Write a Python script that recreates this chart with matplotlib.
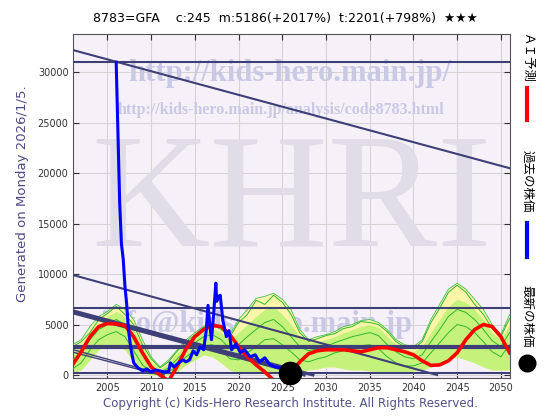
import numpy as np
import matplotlib
matplotlib.use('Agg')
import matplotlib.pyplot as plt
from matplotlib.lines import Line2D

# --- data ---
title = '8783=GFA    c:245  m:5186(+2017%)  t:2201(+798%)  \u2605\u2605\u2605'
x_ticks = [2005, 2010, 2015, 2020, 2025, 2030, 2035, 2040, 2045, 2050]
y_ticks = [0, 5000, 10000, 15000, 20000, 25000, 30000]

band_years = list(range(2001, 2052))
yellow_hi = [3000, 3500, 4800, 5800, 6300, 7000, 6500, 5500, 3500, 1800, 800,
             1500, 2500, 3500, 4200, 4800, 5200, 4800, 4000, 5500, 6500, 7600,
             7800, 8100, 7500, 6500, 4500, 3500, 3800, 4000, 4300, 4800, 5000,
             5400, 5500, 5200, 4500, 3500, 3000, 2800, 3500, 5500, 7000, 8500,
             9100, 8500, 7500, 6500, 5000, 4000, 6000]
band_lo = [200, 500, 1500, 2500, 3000, 3000, 2500, 1200, 300, 0, 0,
           0, 300, 1000, 1500, 2000, 1800, 1200, 500, 200, 200, 300,
           300, 300, 200, 200, 300, 500, 600, 800, 800, 600, 500,
           500, 400, 300, 200, 200, 300, 400, 500, 800, 1200, 1500,
           1800, 1500, 1200, 800, 500, 500, 500]
green_hi = [2200, 3000, 4000, 5000, 5800, 6300, 5800, 4500, 2800, 1300, 600,
            1200, 2200, 3000, 3800, 4300, 4600, 4200, 3500, 4200, 5000, 5800,
            6500, 6800, 6000, 5000, 3800, 3200, 3300, 3500, 3800, 4200, 4500,
            4800, 5000, 4700, 3800, 3000, 2500, 2300, 2800, 4200, 5500, 6800,
            7500, 7200, 6500, 5500, 4200, 3500, 5000]
green_a = [2800, 3300, 4200, 5500, 6100, 6800, 6000, 5000, 3000, 1600, 700,
           1300, 2400, 3300, 4000, 4700, 5000, 4500, 3800, 5200, 6000, 7400,
           7000, 7900, 7200, 6000, 4200, 3300, 3600, 3900, 4100, 4600, 4800,
           5300, 5200, 5000, 4300, 3300, 2800, 2600, 3300, 5200, 6600, 8200,
           8900, 8200, 7000, 6000, 4600, 3800, 5600]
green_b = [1500, 2300, 3500, 4500, 5000, 5500, 5000, 3500, 2000, 800, 300,
           700, 1600, 2500, 3200, 3800, 4000, 3500, 2600, 3000, 3800, 4500,
           5200, 5500, 4800, 3800, 2800, 2400, 2600, 2800, 3200, 3500, 3800,
           4000, 4200, 3900, 3000, 2300, 1800, 1600, 2000, 3300, 4500, 5800,
           6500, 6200, 5500, 4500, 3400, 2800, 4200]
green_c = [600, 1200, 2500, 3500, 4000, 4300, 3800, 2400, 1000, 300, 100,
           300, 900, 1800, 2400, 2900, 3000, 2500, 1600, 1500, 2200, 2800,
           3500, 3600, 3000, 2300, 1500, 1300, 1600, 1800, 2200, 2400, 2600,
           2900, 3000, 2600, 1800, 1200, 900, 900, 1200, 2200, 3200, 4200,
           5000, 4800, 4200, 3300, 2300, 1800, 3000]

ai_years = band_years
ai_pred = [1000, 2300, 3800, 4800, 5100, 5050, 4900, 3800, 2200, 800, 0,
           -600, 900, 2600, 3800, 4500, 4900, 4800, 4000, 2800, 1800, 1000,
           300, -500, -500, 300, 1300, 2100, 2400, 2500, 2500, 2500, 2400,
           2300, 2500, 2700, 2700, 2500, 2300, 2000, 1400, 950, 1000, 1400,
           2200, 3500, 4500, 5000, 4800, 3800, 2200]

past_years = [2006.0, 2006.2, 2006.4, 2006.6, 2006.8, 2007.0, 2007.2, 2007.4,
              2007.7, 2008.0, 2008.5, 2009.0, 2009.5, 2010.0, 2010.5, 2011.0,
              2011.5, 2012.0, 2012.2, 2012.6, 2013.0, 2013.6, 2014.0, 2014.4,
              2014.8, 2015.2, 2015.6, 2016.0, 2016.3, 2016.5, 2016.7, 2016.9,
              2017.1, 2017.4, 2017.5, 2017.7, 2017.9, 2018.2, 2018.6, 2018.9,
              2019.2, 2019.7, 2020.2, 2020.7, 2021.3, 2021.9, 2022.4, 2023.0,
              2023.6, 2024.2, 2024.8, 2025.3]
past_price = [31000, 24000, 17000, 13000, 11500, 8800, 7000, 4500,
              2500, 1200, 700, 400, 600, 300, 500, 400,
              300, 350, 1200, 800, 1100, 1500, 1300, 1500,
              2400, 2000, 2800, 2500, 4400, 6900, 5000, 3500,
              5500, 9100, 7300, 7800, 7900, 5400, 3800, 4400,
              2500, 3100, 2200, 2500, 1800, 2000, 1300, 1700,
              1000, 800, 700, 350]

latest_year = 2025.9
latest_price = 245

hlines = [31000, 6600, 230]
hline_thick = 2800
trend_x0 = [2001.1, 2001.1, 2001.1, 2001.1, 2001.1, 2001.1]
trend_y0 = [32200, 9900, 6350, 6150, 2500, 2250]
trend_x1 = [2051.0, 2042.7, 2028.5, 2027.5, 2011.5, 2011.0]
trend_y1 = [20500, 0, 0, 0, 0, 0]
trend_w = [1.5, 1.5, 2.2, 2.2, 1.0, 1.0]

navy = '#3f3f78'

fig = plt.figure(figsize=(5.6, 4.2), dpi=100)
ax = fig.add_axes([0.131, 0.1, 0.779, 0.819])
ax.set_facecolor('#f6f1f8')

# watermarks
ax.text(0.495, 0.885, 'http://kids-hero.main.jp/', transform=ax.transAxes,
        ha='center', va='center', fontsize=22, fontweight='bold',
        family='Liberation Serif', color='#c9c9e6', zorder=1)
ax.text(0.475, 0.78, 'http://kids-hero.main.jp/analysis/code8783.html',
        transform=ax.transAxes, ha='center', va='center', fontsize=11.5,
        fontweight='bold', family='Liberation Serif', color='#c9c9e6', zorder=1)
ax.text(0.5, 0.5, 'KHRI', transform=ax.transAxes, ha='center', va='center',
        fontsize=118, family='Liberation Serif', color='#e0dce8', zorder=1)
ax.text(0.42, 0.155, 'info@kids-hero.main.jp', transform=ax.transAxes,
        ha='center', va='center', fontsize=22, fontweight='bold',
        family='Liberation Serif', color='#c9c9e6', zorder=1)

# bands
ax.fill_between(band_years, band_lo, yellow_hi, color='#fdf6a8', zorder=2, lw=0)
ax.fill_between(band_years, band_lo, green_hi, color='#c4f27a', zorder=2, lw=0)
for g in (green_a, green_b, green_c):
    ax.plot(band_years, g, color='#2eb82e', lw=0.7, zorder=3)
ax.plot(band_years, yellow_hi, color='#44c044', lw=0.6, zorder=3)

# trend lines
for v in hlines:
    ax.axhline(v, color=navy, lw=1.5, zorder=4)
ax.axhline(hline_thick, color=navy, lw=3, zorder=4)
for x0, y0, x1, y1, w in zip(trend_x0, trend_y0, trend_x1, trend_y1, trend_w):
    ax.plot([x0, x1], [y0, y1], color=navy, lw=w, zorder=4)

# AI prediction and past price
ax.plot(ai_years, ai_pred, color='#ff0000', lw=2.6, zorder=5)
ax.plot(past_years, past_price, color='#0000ff', lw=2.2, zorder=6)
ax.plot(latest_year, latest_price, 'o', color='black', ms=16, zorder=7,
        clip_on=False)

ax.set_xlim(2001.1, 2051.0)
ax.set_ylim(-300, 33800)
ax.set_xticks(x_ticks)
ax.set_yticks(y_ticks)
ax.tick_params(labelsize=7, direction='in', length=4, right=True, top=True,
               colors='#333333')
ax.grid(color='#d4d4d4', lw=0.8, zorder=0)
ax.set_axisbelow(True)
for s in ax.spines.values():
    s.set_color('#555555')
    s.set_linewidth(0.8)

fig.text(0.51, 0.957, title, ha='center', va='center', fontsize=9,
         family=['DejaVu Sans'])
fig.text(0.041, 0.54, 'Generated on Monday 2026/1/5.', rotation=90,
         ha='center', va='center', fontsize=9.5, color='#4a4a8a')
fig.text(0.518, 0.04,
         'Copyright (c) Kids-Hero Research Institute. All Rights Reserved.',
         ha='center', va='center', fontsize=8.5, color='#50508a')

# right-side legend
jp = ['Noto Sans CJK JP', 'DejaVu Sans']
lx = 527 / 560
fig.text(lx, 1 - 33 / 420, '\uff21\uff29\u4e88\u6e2c', rotation=270,
         ha='center', va='top', fontsize=9, family=jp)
fig.add_artist(Line2D([lx, lx], [1 - 88 / 420, 1 - 120 / 420],
                      color='#ff0000', lw=3))
fig.text(lx, 1 - 150 / 420, '\u904e\u53bb\u306e\u682a\u4fa1', rotation=270,
         ha='center', va='top', fontsize=9, family=jp)
fig.add_artist(Line2D([lx, lx], [1 - 223 / 420, 1 - 257 / 420],
                      color='#0000ff', lw=3))
fig.text(lx, 1 - 285 / 420, '\u6700\u65b0\u306e\u682a\u4fa1', rotation=270,
         ha='center', va='top', fontsize=9, family=jp)
fig.add_artist(Line2D([lx], [1 - 363 / 420], marker='o', color='black',
                      ms=12, lw=0))

fig.savefig('out.png', dpi=100)
